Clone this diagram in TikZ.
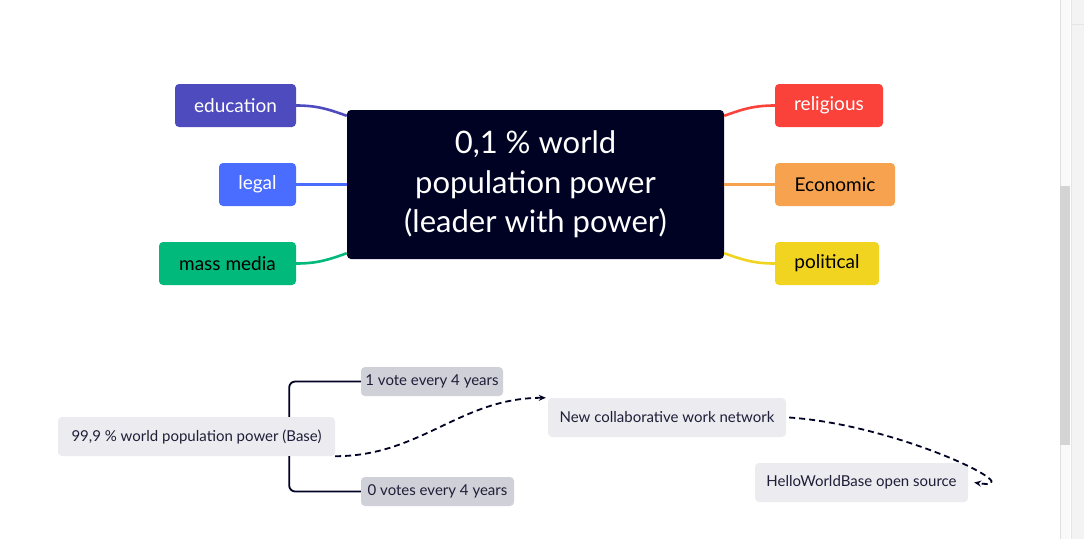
\documentclass[tikz,border=0pt]{standalone}
\usepackage{fontspec}
\setmainfont{Lato}
\usetikzlibrary{arrows.meta}

\definecolor{eduviolet}{HTML}{4E4BBE}
\definecolor{legalblue}{HTML}{4A6CFF}
\definecolor{mediagreen}{HTML}{00B97A}
\definecolor{coreink}{HTML}{000224}
\definecolor{religred}{HTML}{FA423B}
\definecolor{econorange}{HTML}{F6A24E}
\definecolor{polityellow}{HTML}{F1D420}
\definecolor{basegray}{HTML}{ECEBEF}
\definecolor{votegray}{HTML}{D0D0D8}
\definecolor{inkblue}{HTML}{1E1E38}
\definecolor{trackgray}{HTML}{F9F9F9}
\definecolor{thumbgray}{HTML}{D4D4D4}
\definecolor{panelgray}{HTML}{F3F3F3}

\begin{document}
\begin{tikzpicture}[x=1pt, y=-1pt,
    topic/.style={rounded corners=4pt, minimum height=43pt, inner sep=0pt, font=\fontsize{19}{22}\selectfont},
    branch/.style={line width=2.6pt},
    note/.style={rounded corners=4pt, minimum height=39pt, inner sep=0pt, fill=basegray, text=inkblue, font=\fontsize{15}{18}\selectfont},
    vote/.style={note, minimum height=29pt, fill=votegray},
    link/.style={line width=1.8pt, draw=coreink},
    flow/.style={link, dash pattern=on 6pt off 4pt, -{Stealth[length=7pt, width=6pt]}}]
    \useasboundingbox (0,0) rectangle (1084,539);

    % Scroll bar at the right
    \fill[trackgray] (1060,0) rectangle (1070,539);
    \draw[gray!25] (1060,0) -- (1060,539);
    \fill[thumbgray] (1060,186) rectangle (1070,445);
    \fill[panelgray] (1071,0) rectangle (1084,539);
    \draw[gray!20] (1071,0) -- (1071,539);
    \draw[gray!20] (1071,24) -- (1084,24);

    % Central topic
    \node[topic, fill=coreink, text=white, minimum width=377pt, minimum height=149pt, align=center,
          font=\fontsize{31}{39.5}\selectfont] (ctr) at (535.5,184.5)
        {0,1 \% world\\population power\\ (leader with power)};

    % Left branches
    \node[topic, fill=eduviolet, text=white, minimum width=121pt] (edu) at (235.5,105.5) {education};
    \node[topic, fill=legalblue, text=white, minimum width=77pt] (legal) at (257.5,184.5) {legal};
    \node[topic, fill=mediagreen, text=black, minimum width=137pt] (media) at (227.5,263.5) {mass media};
    \draw[branch, eduviolet] (edu.east) to[out=0, in=160] (ctr.160);
    \draw[branch, legalblue] (legal.east) -- (ctr.west);
    \draw[branch, mediagreen] (media.east) to[out=0, in=200] (ctr.200);

    % Right branches
    \node[topic, fill=religred, text=white, minimum width=108pt] (relig) at (829,105.5) {religious};
    \node[topic, fill=econorange, text=black, minimum width=120pt] (econ) at (835,184.5) {Economic};
    \node[topic, fill=polityellow, text=black, minimum width=104pt] (polit) at (827,263.5) {political};
    \draw[branch, religred] (relig.west) to[out=180, in=20] (ctr.20);
    \draw[branch, econorange] (econ.west) -- (ctr.east);
    \draw[branch, polityellow] (polit.west) to[out=180, in=-20] (ctr.-20);

    % Base and its votes
    \node[note, minimum width=277pt] (base) at (196.5,436.5) {99,9 \% world population power (Base)};
    \node[vote, minimum width=142pt] (vote1) at (432,381.5) {1 vote every 4 years};
    \node[vote, minimum width=153pt] (vote0) at (437.5,491.5) {0 votes every 4 years};
    \draw[link, rounded corners=6pt] (vote1.west) -| ([xshift=-46pt]base.north east);
    \draw[link, rounded corners=6pt] (vote0.west) -| ([xshift=-46pt]base.south east);

    % Way out
    \node[note, minimum width=238pt] (net) at (667,417.5) {New collaborative work network};
    \node[note, minimum width=213pt] (hello) at (861.5,482.5) {HelloWorldBase open source};
    \draw[flow] (base.south east) to[out=0, in=180] ([xshift=-2pt]net.north west);
    \draw[flow] ([xshift=3pt]net.east) .. controls (900,425) and (1035,492) .. ([xshift=6pt]hello.east);
\end{tikzpicture}
\end{document}
